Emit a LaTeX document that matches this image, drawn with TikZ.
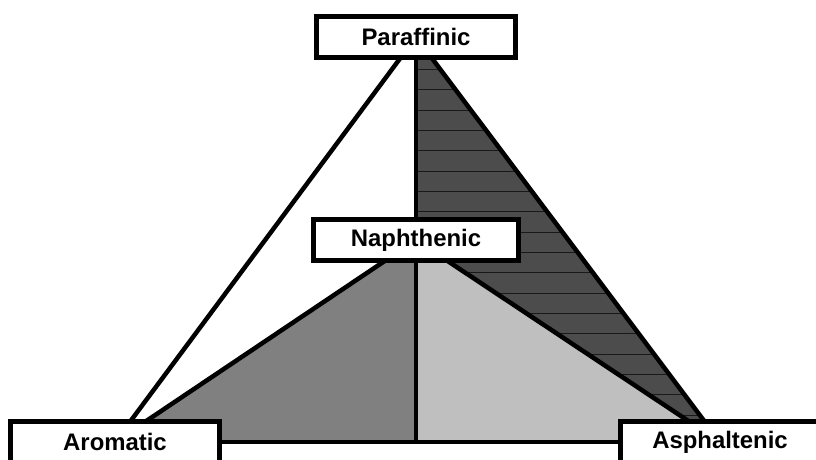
\documentclass[tikz,border=0pt]{standalone}
\usepackage{fontspec}
\setmainfont{Liberation Sans}
\usetikzlibrary{positioning, backgrounds}

\begin{document}
\begin{tikzpicture}[
    b/.style={rectangle, draw, fill=white, line width=0.1cm, minimum height=0.82cm, inner sep=0pt, font=\fontsize{13.6}{16}\selectfont\bfseries},
    l/.style={line width=0.09cm},
    h/.style={line width=0.5pt, black!90},
]
\useasboundingbox (0,0) rectangle (16.32,9.18);

\node[b, minimum width=3.98cm] (pa) at (8.32,8.44) {Paraffinic};
\node[b, minimum width=4.1cm] (na) at (8.32,4.38) {Naphthenic};
\node[b, minimum width=4.19cm] (ar) at (2.30,0.34) {Aromatic};
\node[b, minimum width=4.0cm] (as) at (14.40,0.34) {Asphaltenic};
\coordinate (mid) at (na |- ar);

\begin{scope}[on background layer]
\fill[black!70] (pa.center) -- (as.center) -- (na.center) -- cycle;
\begin{scope}
\clip (pa.center) -- (as.center) -- (na.center) -- cycle;
\foreach \i in {0,...,18}
    \draw[h] (7,8.201-0.407*\i) -- (15,8.201-0.407*\i);
\end{scope}
\fill[black!50] (na.center) -- (ar.center) -- (mid) -- cycle;
\fill[black!25] (na.center) -- (as.center) -- (mid) -- cycle;

\draw[l] (pa.center) -- (ar.center);
\draw[l] (pa.center) -- (as.center);
\draw[l] (pa.center) -- (mid);
\draw[l] (na.center) -- (ar.center);
\draw[l] (na.center) -- (as.center);
\draw[l] (ar.center) -- (as.center);
\end{scope}
\end{tikzpicture}
\end{document}
